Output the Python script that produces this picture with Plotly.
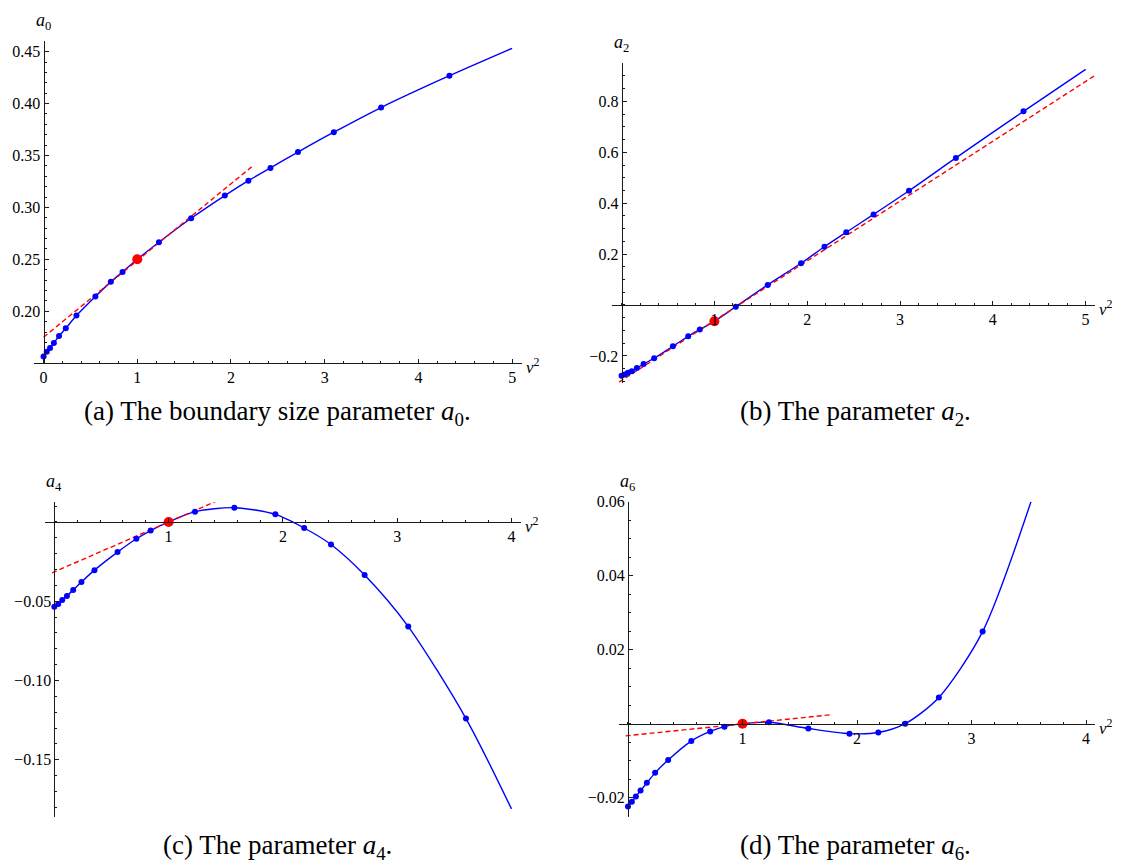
import plotly.graph_objects as go

W, H = 1121, 863
OFF = 8  # the page body margin shifts the figure by this many pixels

# ---------------- data ----------------
v2_pts = [0.0, 0.034, 0.069, 0.11, 0.165, 0.237, 0.351, 0.553, 0.718, 0.843,
          1.231, 1.575, 1.934, 2.186, 2.421, 2.715, 3.097, 3.602, 4.331]

a0_pts = [0.1564, 0.1609, 0.1647, 0.1695, 0.1761, 0.1835, 0.1959, 0.2143, 0.2283, 0.2379,
          0.2665, 0.2895, 0.3114, 0.3257, 0.3380, 0.3533, 0.3724, 0.3962, 0.4268]
a2_pts = [-0.278, -0.273, -0.266, -0.260, -0.248, -0.232, -0.209, -0.162, -0.123, -0.096,
          -0.0065, 0.079, 0.164, 0.229, 0.286, 0.356, 0.449, 0.578, 0.761]
a4_pts = [-0.0535, -0.0517, -0.0492, -0.0467, -0.0429, -0.0379, -0.0304, -0.0190, -0.0106, -0.0054,
          0.0065, 0.0090, 0.0048, -0.0038, -0.0142, -0.0335, -0.066, -0.124]
a6_pts = [-0.0224, -0.0211, -0.0197, -0.0181, -0.0160, -0.0133, -0.0098, -0.0047, -0.0021, -0.0008,
          0.0004, -0.0013, -0.0027, -0.0024, 0.0, 0.0071, 0.0249]

# special (red) point at v^2 = 1
red_x = 1.0
red_a0, red_a2, red_a4, red_a6 = 0.25, -0.064, 0.0, 0.0

# end of the fitted curves
end_a0 = (5.0, 0.4532)
end_a2 = (5.0, 0.926)
end_a4 = (4.0, -0.181)
end_a6 = (3.519, 0.06)

# tangent (red dashed) segment endpoints
tan_a0_x, tan_a0_y = [0.0, 2.22], [0.175, 0.339]
tan_a2_x, tan_a2_y = [-0.027, 5.1], [-0.303, 0.902]
tan_a4_x, tan_a4_y = [-0.02, 1.44], [-0.0321, 0.0138]
tan_a6_x, tan_a6_y = [-0.02, 1.77], [-0.0033, 0.0024]

# tick labels
a0_yticks = [0.20, 0.25, 0.30, 0.35, 0.40, 0.45]
a0_xticks = [0, 1, 2, 3, 4, 5]
a2_yticks = [-0.2, 0.2, 0.4, 0.6, 0.8]
a2_xticks = [1, 2, 3, 4, 5]
a4_yticks = [-0.05, -0.10, -0.15]
a4_xticks = [1, 2, 3, 4]
a6_yticks = [-0.02, 0.02, 0.04, 0.06]
a6_xticks = [1, 2, 3, 4]

captions = ["(a) The boundary size parameter <i>a</i><sub>0</sub>.",
            "(b) The parameter <i>a</i><sub>2</sub>.",
            "(c) The parameter <i>a</i><sub>4</sub>.",
            "(d) The parameter <i>a</i><sub>6</sub>."]


def fmt(v, nd):
    s = f"{abs(v):.{nd}f}"
    return ("\u2212" + s) if v < 0 else s


def merge(xs, ys, rx, ry, end):
    pts = sorted(list(zip(xs, ys)) + [(rx, ry), end])
    return [p[0] for p in pts], [p[1] for p in pts]


def fx(px):
    return (px - OFF) / W


def fy(py):
    return 1 - (py - OFF) / H


n = len
panels = [
    dict(px=v2_pts[:n(a0_pts)], py=a0_pts, ry=red_a0, end=end_a0, tx=tan_a0_x, ty=tan_a0_y,
         xr=[-0.1, 5.1], yr=[0.15, 0.46], xo=0.15,
         box=(34.2, 521.5, 33.5, 358.4), xt=a0_xticks, yt=a0_yticks, ynd=2,
         ydt=0.01, lab="<i>a</i><sub>0</sub>", cap=(277, 409)),
    dict(px=v2_pts[:n(a2_pts)], py=a2_pts, ry=red_a2, end=end_a2, tx=tan_a2_x, ty=tan_a2_y,
         xr=[-0.1, 5.1], yr=[-0.306, 0.95], xo=0.0,
         box=(612.3, 1094.9, 55.7, 378.3), xt=a2_xticks, yt=a2_yticks, ynd=1,
         ydt=0.05, lab="<i>a</i><sub>2</sub>", cap=(855, 409)),
    dict(px=v2_pts[:n(a4_pts)], py=a4_pts, ry=red_a4, end=end_a4, tx=tan_a4_x, ty=tan_a4_y,
         xr=[-0.08, 4.08], yr=[-0.186, 0.0125], xo=0.0,
         box=(45.2, 520.6, 498.7, 816.3), xt=a4_xticks, yt=a4_yticks, ynd=2,
         ydt=0.01, lab="<i>a</i><sub>4</sub>", cap=(277, 847)),
    dict(px=v2_pts[:n(a6_pts)], py=a6_pts, ry=red_a6, end=end_a6, tx=tan_a6_x, ty=tan_a6_y,
         xr=[-0.08, 4.08], yr=[-0.0251, 0.06], xo=0.0,
         box=(618.8, 1095.2, 498.3, 816.0), xt=a6_xticks, yt=a6_yticks, ynd=2,
         ydt=0.005, lab="<i>a</i><sub>6</sub>", cap=(855, 847)),
]

BLUE = "#0000ff"
RED = "#ff0000"
AX = "#1a1a1a"
FONT = "Liberation Serif"

fig = go.Figure()
layout = dict(width=W, height=H, margin=dict(l=0, r=0, t=0, b=0),
              paper_bgcolor="white", plot_bgcolor="rgba(0,0,0,0)",
              showlegend=False, annotations=[])

for i, p in enumerate(panels):
    k = "" if i == 0 else str(i + 1)
    xn, yn = "x" + k, "y" + k
    x0p, x1p, y0p, y1p = p["box"]
    xdom = [fx(x0p), fx(x1p)]
    ydom = [fy(y1p), fy(y0p)]
    ypos = xdom[0] + (0 - p["xr"][0]) / (p["xr"][1] - p["xr"][0]) * (xdom[1] - xdom[0])
    xpos = ydom[0] + (p["xo"] - p["yr"][0]) / (p["yr"][1] - p["yr"][0]) * (ydom[1] - ydom[0])

    cx, cy = merge(p["px"], p["py"], red_x, p["ry"], p["end"])
    fig.add_trace(go.Scatter(x=cx, y=cy, mode="lines", line=dict(color=BLUE, width=1.4, shape="spline", smoothing=0.8),
                             xaxis=xn, yaxis=yn, hoverinfo="skip"))
    fig.add_trace(go.Scatter(x=p["tx"], y=p["ty"], mode="lines", line=dict(color=RED, width=1.4, dash="5px,3px"),
                             xaxis=xn, yaxis=yn, hoverinfo="skip"))
    fig.add_trace(go.Scatter(x=p["px"], y=p["py"], mode="markers", marker=dict(color=BLUE, size=6),
                             xaxis=xn, yaxis=yn))
    fig.add_trace(go.Scatter(x=[red_x], y=[p["ry"]], mode="markers", marker=dict(color=RED, size=10),
                             xaxis=xn, yaxis=yn))

    common = dict(showline=True, linecolor=AX, linewidth=1, ticks="inside", ticklen=4, tickwidth=1,
                  tickcolor=AX, showgrid=False, zeroline=False, tickmode="array",
                  tickfont=dict(family=FONT, size=16, color="black"), anchor="free")
    layout["xaxis" + k] = dict(common, domain=xdom, range=p["xr"], position=xpos,
                               tickvals=p["xt"], ticktext=[str(v) for v in p["xt"]],
                               minor=dict(ticks="inside", ticklen=2, tickcolor=AX, tickmode="linear",
                                          tick0=0, dtick=0.2, showgrid=False))
    layout["yaxis" + k] = dict(common, domain=ydom, range=p["yr"], position=ypos,
                               tickvals=p["yt"], ticktext=[fmt(v, p["ynd"]) for v in p["yt"]],
                               minor=dict(ticks="inside", ticklen=2, tickcolor=AX, tickmode="linear",
                                          tick0=0, dtick=p["ydt"], showgrid=False))
    layout["annotations"].append(dict(text=p["lab"], xref="paper", yref="paper", x=ypos, y=ydom[1],
                                      xanchor="center", yanchor="bottom", yshift=6, showarrow=False,
                                      font=dict(family=FONT, size=18, color="black")))
    layout["annotations"].append(dict(text="<i>v</i><sup>2</sup>", xref="paper", yref="paper",
                                      x=xdom[1], y=xpos, xanchor="left", yanchor="middle",
                                      xshift=2, yshift=-3, showarrow=False,
                                      font=dict(family=FONT, size=17, color="black")))
    cxp, cyp = p["cap"]
    layout["annotations"].append(dict(text=captions[i], xref="paper", yref="paper", x=fx(cxp), y=fy(cyp),
                                      xanchor="center", yanchor="middle", showarrow=False,
                                      font=dict(family=FONT, size=27, color="black")))

fig.update_layout(**layout)
fig.write_html("out.html")
